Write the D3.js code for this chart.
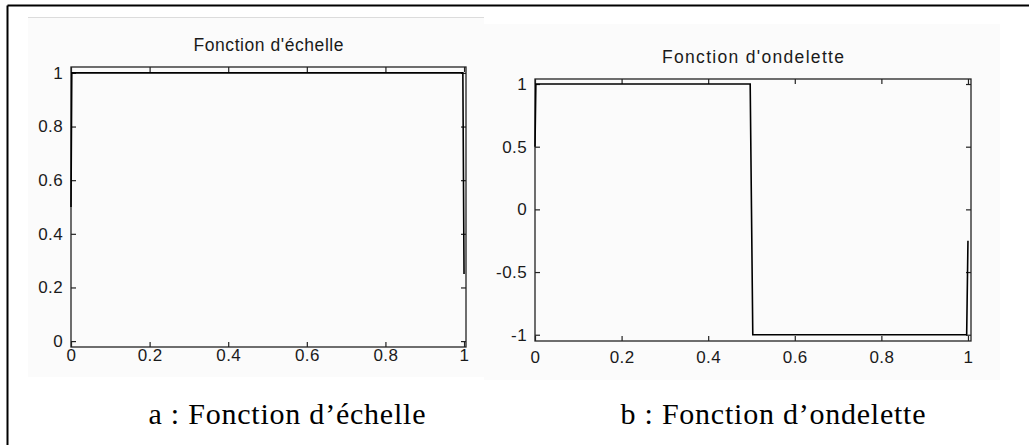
<!DOCTYPE html>
<html>
<head>
<meta charset="utf-8">
<script src="https://cdn.jsdelivr.net/npm/d3@7"></script>
<style>
  html, body { margin: 0; padding: 0; background: #ffffff; }
  svg { display: block; }
</style>
</head>
<body>
<script>
// Haar scaling function (phi) and wavelet (psi) sampled on [0, 1]
const phiX = [0, 0.002, 0.997, 0.998, 1];
const phiY = [0.5, 1, 1, 0.75, 0.25];
const psiX = [0, 0.002, 0.497, 0.5, 0.503, 0.997, 0.998, 1];
const psiY = [0.5, 1, 1, 0, -1, -1, -0.75, -0.25];

// Tick values and labels
const xTicks = [0, 0.2, 0.4, 0.6, 0.8, 1];
const xTickLabels = ["0", "0.2", "0.4", "0.6", "0.8", "1"];
const yTicksPhi = [0, 0.2, 0.4, 0.6, 0.8, 1];
const yTickLabelsPhi = ["0", "0.2", "0.4", "0.6", "0.8", "1"];
const yTicksPsi = [-1, -0.5, 0, 0.5, 1];
const yTickLabelsPsi = ["-1", "-0.5", "0", "0.5", "1"];

// Titles and captions
const titles = ["Fonction d'échelle", "Fonction d'ondelette"];
const captions = ["a : Fonction d\u2019échelle", "b : Fonction d\u2019ondelette"];

const W = 1029, H = 445;
const svg = d3.select("body").append("svg").attr("width", W).attr("height", H);

// Light panel backgrounds behind each plot
svg.append("rect").attr("x", 28).attr("y", 17).attr("width", 456).attr("height", 360).attr("fill", "#fbfbfb");
svg.append("line").attr("x1", 28).attr("x2", 484).attr("y1", 17.5).attr("y2", 17.5).attr("stroke", "#dcdcdc");
svg.append("rect").attr("x", 484).attr("y", 24).attr("width", 516).attr("height", 356).attr("fill", "#fbfbfb");

// Outer frame (top and left edges)
svg.append("line").attr("x1", 7.5).attr("x2", W).attr("y1", 5.5).attr("y2", 5.5).attr("stroke", "#000").attr("stroke-width", 2);
svg.append("line").attr("x1", 7.5).attr("x2", 7.5).attr("y1", 5.5).attr("y2", H).attr("stroke", "#000").attr("stroke-width", 2);

function styleAxis(sel) {
  sel.select(".domain").remove();
  sel.selectAll(".tick line").attr("stroke", "#222").attr("stroke-width", 1.2);
  sel.selectAll(".tick text")
    .style("font-family", "'Liberation Sans', Arial, sans-serif")
    .style("font-size", "17px")
    .style("letter-spacing", "0.4px")
    .attr("fill", "#1a1a1a");
}

function drawPanel(cfg) {
  const x = d3.scaleLinear().domain(cfg.xDomain).range(cfg.xRange);
  const y = d3.scaleLinear().domain(cfg.yDomain).range(cfg.yRange);
  const g = svg.append("g");

  const fmtX = d => xTickLabels[xTicks.indexOf(d)];
  const fmtY = d => cfg.yLabels[cfg.yTicks.indexOf(d)];

  // Bottom axis with labels, ticks pointing inward
  g.append("g").attr("transform", `translate(0,${cfg.yRange[0]})`)
    .call(d3.axisBottom(x).tickValues(xTicks).tickFormat(fmtX).tickSizeInner(-5).tickSizeOuter(0).tickPadding(cfg.xPad))
    .call(styleAxis);
  // Top axis, ticks only
  g.append("g").attr("transform", `translate(0,${cfg.yRange[1]})`)
    .call(d3.axisTop(x).tickValues(xTicks).tickFormat("").tickSizeInner(-5).tickSizeOuter(0))
    .call(styleAxis);
  // Left axis with labels
  g.append("g").attr("transform", `translate(${cfg.xRange[0]},0)`)
    .call(d3.axisLeft(y).tickValues(cfg.yTicks).tickFormat(fmtY).tickSizeInner(-5).tickSizeOuter(0).tickPadding(8))
    .call(styleAxis);
  // Right axis, ticks only
  g.append("g").attr("transform", `translate(${cfg.xRange[1]},0)`)
    .call(d3.axisRight(y).tickValues(cfg.yTicks).tickFormat("").tickSizeInner(-5).tickSizeOuter(0))
    .call(styleAxis);

  // Axes box
  g.append("rect")
    .attr("x", cfg.xRange[0]).attr("y", cfg.yRange[1])
    .attr("width", cfg.xRange[1] - cfg.xRange[0]).attr("height", cfg.yRange[0] - cfg.yRange[1])
    .attr("fill", "none").attr("stroke", "#222").attr("stroke-width", 1.3);

  // Function curve
  const pts = cfg.xs.map((v, i) => [v, cfg.ys[i]]);
  g.append("path")
    .attr("d", d3.line().x(d => x(d[0])).y(d => y(d[1]))(pts))
    .attr("fill", "none").attr("stroke", "#000").attr("stroke-width", 1.6);

  // Title
  g.append("text")
    .attr("x", (cfg.xRange[0] + cfg.xRange[1]) / 2).attr("y", cfg.titleY)
    .attr("text-anchor", "middle")
    .attr("textLength", cfg.titleW).attr("lengthAdjust", "spacing")
    .style("font-family", "'Liberation Sans', Arial, sans-serif").style("font-size", "17.5px").style("fill", "#1a1a1a")
    .text(cfg.title);

  // Caption
  g.append("text")
    .attr("x", cfg.capX).attr("y", 424)
    .attr("text-anchor", "middle")
    .attr("textLength", cfg.capW).attr("lengthAdjust", "spacing")
    .style("font-family", "'Liberation Serif', 'Times New Roman', serif").style("font-size", "30px").style("fill", "#000")
    .text(cfg.caption);
}

drawPanel({
  xDomain: [0, 1.005], xRange: [71, 466],
  yDomain: [-0.022, 1.022], yRange: [347, 67],
  yTicks: yTicksPhi, yLabels: yTickLabelsPhi,
  xs: phiX, ys: phiY, xPad: 2,
  title: titles[0], titleY: 51, titleW: 150,
  caption: captions[0], capX: 287, capW: 277
});

drawPanel({
  xDomain: [0, 1.007], xRange: [535, 971],
  yDomain: [-1.05, 1.04], yRange: [341, 79],
  yTicks: yTicksPsi, yLabels: yTickLabelsPsi,
  xs: psiX, ys: psiY, xPad: 10,
  title: titles[1], titleY: 63, titleW: 182,
  caption: captions[1], capX: 773, capW: 305
});
</script>
</body>
</html>
